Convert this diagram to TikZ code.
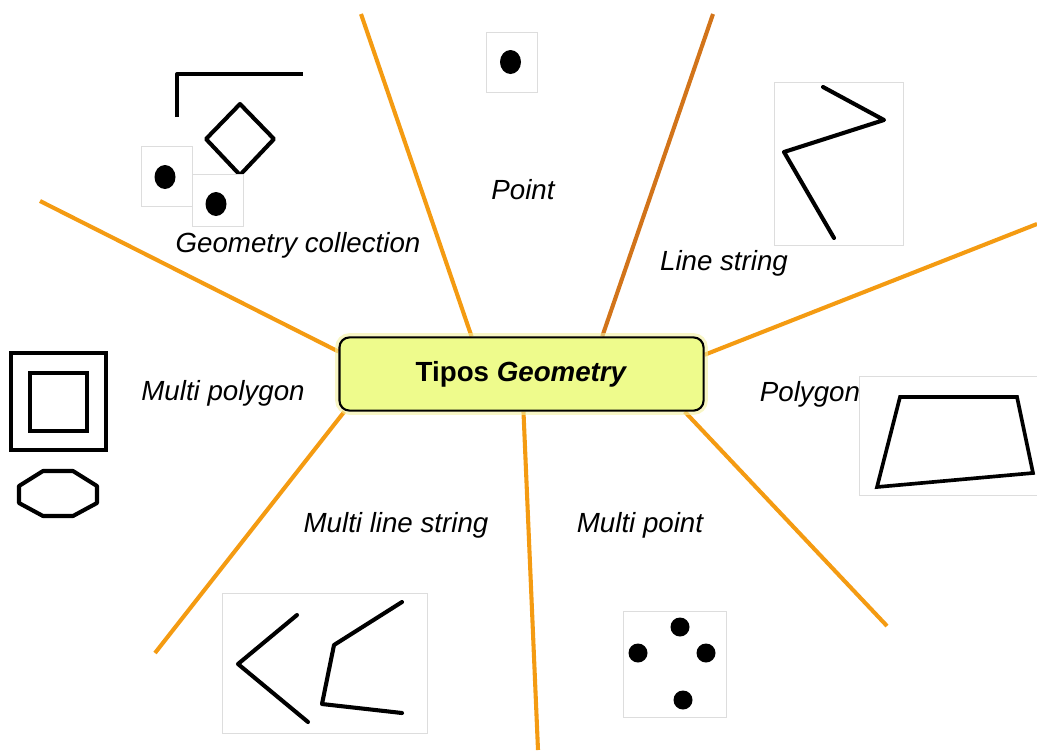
\documentclass[tikz,border=0pt]{standalone}
\usepackage{fontspec}
\setmainfont{Liberation Sans}
\usetikzlibrary{positioning,backgrounds}

\definecolor{rayorange}{HTML}{F49B12}
\definecolor{raybrown}{HTML}{D2741A}
\definecolor{tiposfill}{HTML}{EEFB8C}
\definecolor{tiposglow}{HTML}{F4F0A0}
\definecolor{framegray}{HTML}{DDDDDD}

\tikzset{
  ray/.style={draw=rayorange, line width=2.9pt},
  tipos/.style={draw=black, line width=1.5pt, fill=tiposfill, rounded corners=0.25cm,
    minimum width=9.1cm, minimum height=1.83cm, inner sep=0pt,
    font=\fontsize{19.7}{24}\selectfont\bfseries,
    preaction={draw=tiposglow, line width=6pt, opacity=0.6}},
  kind/.style={font=\fontsize{19.7}{24}\selectfont\itshape, anchor=base, inner sep=0pt},
  frame/.style={draw=framegray, line width=0.5pt, fill=white},
  glyph/.style={line width=2.9pt, line join=round, line cap=round},
  dot/.style={fill=black}
}

\begin{document}
\begin{tikzpicture}[x=0.025cm, y=-0.025cm]
    \useasboundingbox (0,0) rectangle (1037,750);

    % Define the free ends of the rays
    \coordinate (pointend) at (361,14);
    \coordinate (lineend) at (713,14);
    \coordinate (polyend) at (1037,224);
    \coordinate (mpointend) at (887,626);
    \coordinate (mlineend) at (538,750);
    \coordinate (mpolyend) at (155,653);
    \coordinate (collend) at (40,201);

    % Place the central node
    \node[tipos] (tipos) at (521.5,374) {Tipos \textit{Geometry}};

    % Draw the rays
    \begin{scope}[on background layer]
    \draw[ray] (tipos.143.4) -- (pointend);
    \draw[ray, draw=raybrown] (tipos.25.8) -- (lineend);
    \draw[ray] (tipos.6.9) -- (polyend);
    \draw[ray] (tipos.347.6) -- (mpointend);
    \draw[ray] (tipos.273.9) -- (mlineend);
    \draw[ray] (tipos.192.5) -- (mpolyend);
    \draw[ray] (tipos.173.2) -- (collend);
    \end{scope}

    % Point
    \draw[frame] (486,32) rectangle (537,92);
    \fill[dot] (510.5,62) ellipse (10.5 and 12);

    % Line string
    \draw[frame] (774,82) rectangle (903,245);
    \draw[glyph] (823,87) -- (884,120) -- (784,152) -- (834,238);

    % Geometry collection
    \draw[glyph, line cap=butt] (177,117) -- (177,74) -- (303,74);
    \draw[glyph] (240,104) -- (274,139) -- (240,175) -- (206,139) -- cycle;
    \draw[frame] (141,146) rectangle (192,206);
    \fill[dot] (165,177) ellipse (10.5 and 12);
    \draw[frame] (192,174) rectangle (243,226);
    \fill[dot] (216,204) ellipse (10.5 and 12);

    % Multi polygon
    \draw[glyph, line join=miter] (11,353) rectangle (106,450);
    \draw[glyph, line join=miter] (30,373) rectangle (87,431);
    \draw[glyph] (43,471) -- (73,471) -- (97,486) -- (97,503) -- (73,516) -- (43,516) -- (19,503) -- (19,486) -- cycle;

    % Polygon
    \draw[frame] (859,376) rectangle (1045,495);
    \draw[glyph, line width=2.6pt, line join=miter] (900,397) -- (1017,397) -- (1033,473) -- (877,487) -- cycle;

    % Multi line string
    \draw[frame] (222,593) rectangle (427,733);
    \draw[glyph] (297,615) -- (238,664) -- (308,722);
    \draw[glyph] (402,602) -- (334,645) -- (322,704) -- (402,713);

    % Multi point
    \draw[frame] (623,611) rectangle (726,717);
    \fill[dot] (680,627) circle (9.5);
    \fill[dot] (638,653) circle (9.5);
    \fill[dot] (706,653) circle (9.5);
    \fill[dot] (683,700) circle (9.5);

    % Place the labels
    \node[kind] (pointlbl) at (523,199) {Point};
    \node[kind] (linelbl) at (724,270) {Line string};
    \node[kind] (colllbl) at (298,252) {Geometry collection};
    \node[kind] (mpolylbl) at (223,400) {Multi polygon};
    \node[kind] (polylbl) at (810,401) {Polygon};
    \node[kind] (mlinelbl) at (396,532) {Multi line string};
    \node[kind] (mpointlbl) at (640,532) {Multi point};

\end{tikzpicture}
\end{document}
